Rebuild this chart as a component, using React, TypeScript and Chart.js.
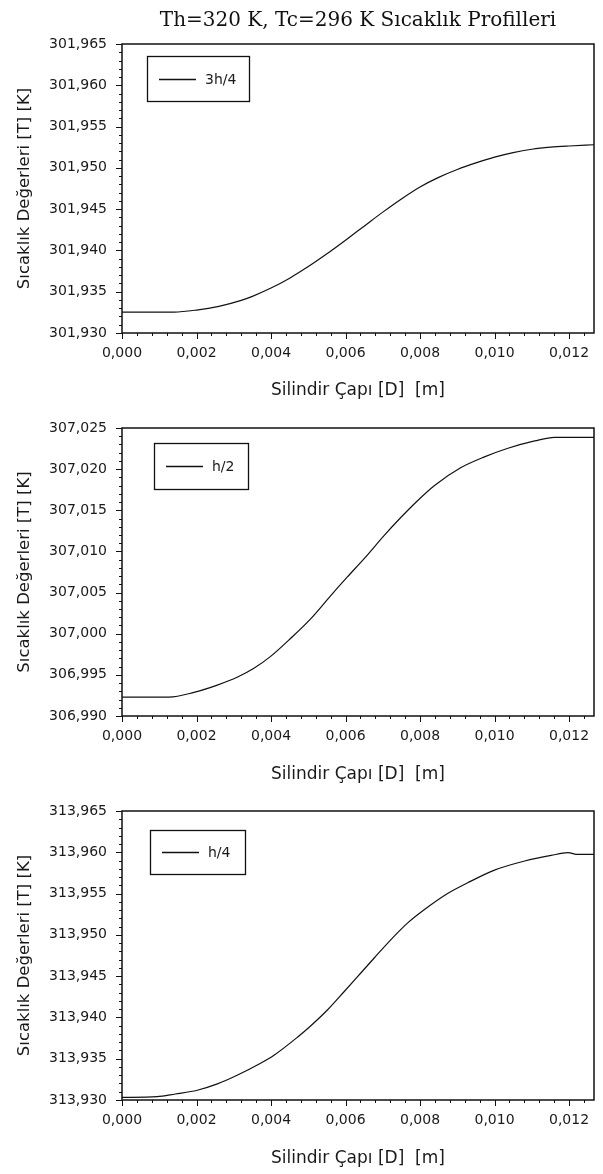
import React, { useEffect, useRef } from 'react';
import { Chart, registerables } from 'chart.js';

Chart.register(...registerables);

// ---------- data ----------
const PAGE_TITLE = 'Th=320 K, Tc=296 K Sıcaklık Profilleri';
const X_TITLE = 'Silindir Çapı [D]  [m]';
const Y_TITLE = 'Sıcaklık Değerleri [T] [K]';

const X_TICKS = [0, 0.002, 0.004, 0.006, 0.008, 0.01, 0.012];
const X_MIN = 0;
const X_MAX = 0.01267;

const LABEL_1 = '3h/4';
const X_1 = [0, 0.0014, 0.002, 0.0026, 0.0032, 0.0035, 0.004, 0.0045, 0.005, 0.0055, 0.006, 0.0065, 0.007, 0.0075, 0.008, 0.0085, 0.009, 0.0095, 0.01, 0.0105, 0.011, 0.0115, 0.012, 0.01267];
const T_1 = [301.93254, 301.93254, 301.93278, 301.93323, 301.93395, 301.93444, 301.93544, 301.93664, 301.93804, 301.93959, 301.94124, 301.94294, 301.94464, 301.94624, 301.94769, 301.94885, 301.9498, 301.9506, 301.9513, 301.95185, 301.95225, 301.9525, 301.95265, 301.9528];
const Y_TICKS_1 = [301.93, 301.935, 301.94, 301.945, 301.95, 301.955, 301.96, 301.965];

const LABEL_2 = 'h/2';
const X_2 = [0, 0.00126, 0.00193, 0.00256, 0.00309, 0.00354, 0.00399, 0.00453, 0.00507, 0.00561, 0.00605, 0.0065, 0.00704, 0.00749, 0.00794, 0.00839, 0.0091, 0.00973, 0.01036, 0.01108, 0.01161, 0.01267];
const T_2 = [306.9923, 306.9923, 306.99287, 306.99376, 306.9947, 306.9958, 306.99725, 306.99945, 307.00184, 307.00467, 307.0069, 307.00912, 307.01195, 307.01415, 307.01619, 307.01801, 307.02019, 307.02149, 307.02254, 307.02343, 307.02387, 307.02387];
const Y_TICKS_2 = [306.99, 306.995, 307.0, 307.005, 307.01, 307.015, 307.02, 307.025];

const LABEL_3 = 'h/4';
const X_3 = [0, 0.00094, 0.00143, 0.00202, 0.00256, 0.00309, 0.00372, 0.00408, 0.00471, 0.00507, 0.00552, 0.00596, 0.00641, 0.00677, 0.00722, 0.00767, 0.00812, 0.00874, 0.00928, 0.01, 0.01081, 0.01152, 0.01197, 0.01224, 0.01267];
const T_3 = [313.93032, 313.9304, 313.93073, 313.93118, 313.93195, 313.933, 313.93445, 313.93542, 313.93761, 313.939, 313.94093, 313.94311, 313.94538, 313.9472, 313.94943, 313.95145, 313.95307, 313.95501, 313.95631, 313.95784, 313.95894, 313.95962, 313.95995, 313.95974, 313.95974];
const Y_TICKS_3 = [313.93, 313.935, 313.94, 313.945, 313.95, 313.955, 313.96, 313.965];

// ---------- helpers ----------
const fmt = (v: number) => v.toFixed(3).replace('.', ',');
const TICK_FONT = { family: 'DejaVu Sans', size: 14 };
const TEXT_COLOR = '#1a1a1a';

const frameTicks = {
  id: 'frameTicks',
  afterDraw(chart: any, _args: any, opts: any) {
    const { ctx, chartArea } = chart;
    const { left, right, top, bottom } = chartArea;
    const xs = chart.scales.x;
    const ys = chart.scales.y;
    ctx.save();
    ctx.strokeStyle = '#111';
    ctx.lineWidth = 1;
    ctx.beginPath();
    const xStep = opts.xStep / 5;
    for (let i = 0; ; i++) {
      const v = xs.min + i * xStep;
      if (v > xs.max + 1e-12) break;
      const px = Math.round(xs.getPixelForValue(v)) + 0.5;
      const len = i % 5 === 0 ? 6 : 3;
      ctx.moveTo(px, bottom);
      ctx.lineTo(px, bottom + len);
    }
    const yStep = opts.yStep / 5;
    for (let i = 0; ; i++) {
      const v = ys.min + i * yStep;
      if (v > ys.max + 1e-9) break;
      const py = Math.round(ys.getPixelForValue(v)) + 0.5;
      const len = i % 5 === 0 ? 6 : 3;
      ctx.moveTo(left, py);
      ctx.lineTo(left - len, py);
    }
    ctx.stroke();
    ctx.lineWidth = 1.5;
    ctx.strokeRect(left, top, right - left, bottom - top);
    ctx.restore();
  },
};

const legendBox = {
  id: 'legendBox',
  afterDraw(chart: any, _args: any, opts: any) {
    const { ctx, chartArea } = chart;
    const ds = chart.data.datasets[0];
    const bx = chartArea.left + opts.dx;
    const by = chartArea.top + opts.dy;
    ctx.save();
    ctx.fillStyle = '#fff';
    ctx.fillRect(bx, by, opts.w, opts.h);
    ctx.strokeStyle = '#111';
    ctx.lineWidth = 1.3;
    ctx.strokeRect(bx + 0.5, by + 0.5, opts.w, opts.h);
    const my = Math.round(by + opts.h / 2) + 0.5;
    ctx.beginPath();
    ctx.lineWidth = 1.3;
    ctx.strokeStyle = ds.borderColor;
    ctx.moveTo(bx + 12, my);
    ctx.lineTo(bx + 49, my);
    ctx.stroke();
    ctx.fillStyle = TEXT_COLOR;
    ctx.font = '14px "DejaVu Sans"';
    ctx.textBaseline = 'middle';
    ctx.textAlign = 'left';
    ctx.fillText(ds.label, bx + 58, my + 1);
    ctx.restore();
  },
};

type Spec = {
  label: string;
  xs: number[];
  ts: number[];
  yTicks: number[];
  padTop: number;
  xHeight: number;
  xTitlePadBottom: number;
  showTitle: boolean;
  legend: { dx: number; dy: number; w: number; h: number };
};

function makeConfig(s: Spec): any {
  return {
    type: 'line',
    data: {
      datasets: [
        {
          label: s.label,
          data: s.xs.map((x, i) => ({ x, y: s.ts[i] })),
          borderColor: '#111',
          borderWidth: 1.2,
          pointRadius: 0,
          fill: false,
          cubicInterpolationMode: 'monotone',
        },
      ],
    },
    options: {
      animation: false,
      responsive: false,
      layout: { padding: { top: s.padTop, right: 9, left: 0, bottom: 0 } },
      plugins: {
        legend: { display: false },
        tooltip: { enabled: false },
        title: {
          display: s.showTitle,
          text: PAGE_TITLE,
          fullSize: false,
          align: 'center',
          color: '#111',
          font: { family: 'DejaVu Serif', size: 20, weight: 'normal' },
          padding: { top: 9, bottom: 11 },
        },
        frameTicks: { xStep: 0.002, yStep: 0.005 },
        legendBox: s.legend,
      },
      scales: {
        x: {
          type: 'linear',
          min: X_MIN,
          max: X_MAX,
          grid: { display: false, drawTicks: false },
          border: { display: false },
          afterBuildTicks: (sc: any) => {
            sc.ticks = X_TICKS.map((v) => ({ value: v }));
          },
          afterFit: (sc: any) => {
            sc.height = s.xHeight;
          },
          ticks: {
            padding: 12,
            color: TEXT_COLOR,
            font: TICK_FONT,
            maxRotation: 0,
            autoSkip: false,
            callback: (v: number) => fmt(v),
          },
          title: {
            display: true,
            text: X_TITLE,
            color: TEXT_COLOR,
            font: { family: 'DejaVu Sans', size: 17 },
            padding: { top: 0, bottom: s.xTitlePadBottom },
          },
        },
        y: {
          type: 'linear',
          min: s.yTicks[0],
          max: s.yTicks[s.yTicks.length - 1],
          grid: { display: false, drawTicks: false },
          border: { display: false },
          afterBuildTicks: (sc: any) => {
            sc.ticks = s.yTicks.map((v) => ({ value: v }));
          },
          afterFit: (sc: any) => {
            sc.width = 122;
          },
          ticks: {
            padding: 15,
            color: TEXT_COLOR,
            font: TICK_FONT,
            autoSkip: false,
            callback: (v: number) => fmt(v),
          },
          title: {
            display: true,
            text: Y_TITLE,
            color: TEXT_COLOR,
            font: { family: 'DejaVu Sans', size: 16.5 },
            padding: { top: 15, bottom: 0 },
          },
        },
      },
    },
    plugins: [frameTicks, legendBox],
  };
}

function ChartCanvas({ spec, top, height }: { spec: Spec; top: number; height: number }) {
  const ref = useRef<HTMLCanvasElement | null>(null);
  useEffect(() => {
    if (!ref.current) return;
    const chart = new Chart(ref.current, makeConfig(spec));
    return () => chart.destroy();
  }, []);
  return (
    <canvas
      ref={ref}
      width={603}
      height={height}
      style={{ position: 'absolute', left: 0, top, width: 603, height, display: 'block' }}
    />
  );
}

const SPEC_1: Spec = {
  label: LABEL_1, xs: X_1, ts: T_1, yTicks: Y_TICKS_1,
  padTop: 0, xHeight: 69, xTitlePadBottom: 1, showTitle: true,
  legend: { dx: 25, dy: 12, w: 102, h: 45 },
};
const SPEC_2: Spec = {
  label: LABEL_2, xs: X_2, ts: T_2, yTicks: Y_TICKS_2,
  padTop: 26, xHeight: 70, xTitlePadBottom: 1, showTitle: false,
  legend: { dx: 32, dy: 15, w: 94, h: 46 },
};
const SPEC_3: Spec = {
  label: LABEL_3, xs: X_3, ts: T_3, yTicks: Y_TICKS_3,
  padTop: 25, xHeight: 74, xTitlePadBottom: 5, showTitle: false,
  legend: { dx: 28, dy: 19, w: 95, h: 44 },
};

export default function App() {
  return (
    <div style={{ position: 'absolute', left: 0, top: 0, width: 603, height: 1174, background: '#fff' }}>
      <ChartCanvas spec={SPEC_1} top={0} height={402} />
      <ChartCanvas spec={SPEC_2} top={402} height={384} />
      <ChartCanvas spec={SPEC_3} top={786} height={388} />
    </div>
  );
}
